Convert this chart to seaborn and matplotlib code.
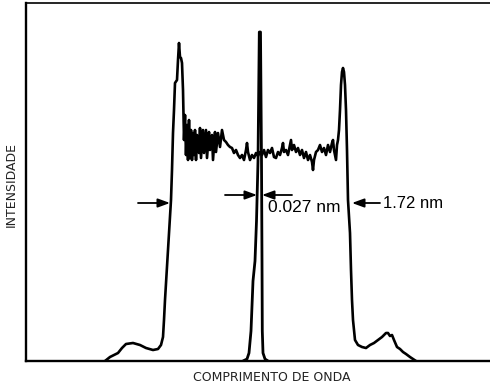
import matplotlib
matplotlib.use("Agg")
import matplotlib.pyplot as plt
import seaborn as sns
import pandas as pd

sns.set_theme(style="white")
plt.rcParams['font.family'] = ['DejaVu Sans']

# Broad (1.72 nm) profile: wavelength (arb. units) and intensity (arb. units)
broad_x = [105, 110, 118, 122, 126, 133, 140, 146, 153, 158, 161, 163, 164, 165, 167, 169, 171, 172, 173, 174,
           175, 177, 178, 179, 180, 181, 182, 183, 184,
           185, 186, 187, 188, 189, 190, 191, 192, 193, 194, 195, 196, 197, 199, 200, 201, 203, 204, 206, 207,
           209, 210, 212, 213, 215, 216, 218, 220, 222, 224, 226, 228, 230, 232, 234, 236, 238, 240, 242, 244,
           246, 247, 248, 250, 252, 254, 256, 258, 260, 262, 264, 266, 268, 270, 272, 274, 276, 278, 280, 282,
           283, 284, 286, 288, 290, 291, 292, 294, 296, 298, 300, 302, 304, 306, 308, 310, 312, 313, 314, 316,
           318, 320, 322, 324, 326, 328, 330, 332, 333, 334, 336, 337, 338, 339, 340, 341, 342, 343, 344, 345,
           346, 347, 348, 350, 351, 352, 353, 355, 358, 362, 366, 370, 374, 378, 382, 386, 388, 390, 392, 394,
           397, 400, 403, 406, 410, 413, 416]
broad_y = [0, 4, 8, 13, 17, 18, 16, 13, 11, 12, 16, 24, 41, 61, 94, 128, 161, 191, 228, 251,
           278, 281, 301, 318, 304, 303, 298, 271, 221,
           246, 206, 236, 201, 241, 203, 231, 201, 228, 206, 231, 201, 226, 208, 233, 203, 231, 208, 231, 203,
           229, 211, 226, 201, 229, 209, 228, 214, 231, 221, 219, 216, 214, 213, 208, 211, 206, 203, 206, 201,
           211, 218, 209, 201, 206, 203, 208, 205, 209, 206, 211, 204, 211, 208, 213, 204, 203, 209, 206, 213,
           218, 209, 211, 206, 216, 221, 211, 216, 209, 213, 206, 211, 203, 209, 201, 206, 199, 191, 201, 209,
           211, 216, 209, 213, 206, 216, 209, 218, 221, 211, 201, 216, 221, 231, 251, 276, 289, 293, 289, 276,
           251, 211, 161, 128, 91, 61, 41, 21, 16, 14, 13, 16, 18, 21, 24, 28, 28, 25, 26, 21,
           14, 12, 9, 7, 4, 2, 0]

# Narrow (0.027 nm) line
narrow_x = [243, 247, 249, 251, 253, 255, 256.5, 258, 259.3, 260.5, 261.5, 262, 262.3, 263, 265, 268]
narrow_y = [0, 2, 8, 30, 80, 100, 140, 200, 329, 329, 200, 100, 30, 8, 2, 0]

# Annotation labels
label_narrow = "0.027 nm"
label_broad = "1.72 nm"
xlabel = "COMPRIMENTO DE ONDA"
ylabel = "INTENSIDADE"

fig = plt.figure(figsize=(4.9, 3.85), dpi=100)
ax = fig.add_axes([26 / 490, 24 / 385, 464 / 490, 358 / 385])

df_b = pd.DataFrame({"x": broad_x, "y": broad_y})
df_n = pd.DataFrame({"x": narrow_x, "y": narrow_y})
sns.lineplot(data=df_b, x="x", y="y", ax=ax, color="black", lw=1.9, sort=False, estimator=None)
sns.lineplot(data=df_n, x="x", y="y", ax=ax, color="black", lw=2.0, sort=False, estimator=None)

ax.set_xlim(26, 490)
ax.set_ylim(0, 358)
ax.set_xticks([])
ax.set_yticks([])
for s in ["left", "bottom"]:
    ax.spines[s].set_linewidth(1.7)
    ax.spines[s].set_color("black")
ax.spines["top"].set_linewidth(1.2)
ax.spines["top"].set_color("black")
ax.spines["right"].set_visible(False)

ax.set_xlabel(xlabel, fontsize=9, color="#222222")
ax.set_ylabel(ylabel, fontsize=9, color="#222222")
ax.xaxis.set_label_coords((272 - 26) / 464, -10 / 358)
ax.yaxis.set_label_coords(-8 / 464, 0.494)

ap = dict(arrowstyle="-|>,head_length=0.6,head_width=0.22", color="black", lw=1.3, shrinkA=0, shrinkB=0)
# broad FWHM arrows
ax.annotate("", xy=(170, 158), xytext=(138, 158), arrowprops=ap)
ax.annotate("", xy=(352, 158), xytext=(380, 158), arrowprops=ap)
ax.text(383, 158, label_broad, fontsize=12, family="Liberation Sans", va="center", ha="left", color="black")
# narrow FWHM arrows
ax.annotate("", xy=(257, 166), xytext=(225, 166), arrowprops=ap)
ax.annotate("", xy=(262, 166), xytext=(292, 166), arrowprops=ap)
ax.text(268, 153, label_narrow, fontsize=12.5, family="Liberation Sans", va="center", ha="left", color="black")

fig.savefig("out.png", dpi=100)
